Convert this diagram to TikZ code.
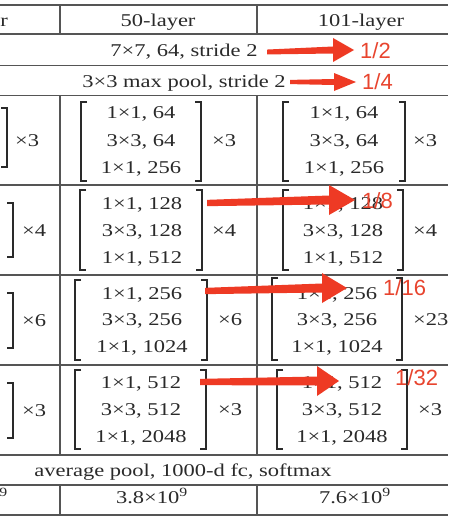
\documentclass[tikz,border=0pt]{standalone}
\usepackage{fontspec}
\setmainfont{Liberation Serif}
\newfontfamily\lblfont{Liberation Sans}
\definecolor{ink}{HTML}{2A2A2A}
\definecolor{rulegray}{HTML}{555555}
\definecolor{arrowred}{HTML}{EE3A24}
\definecolor{lblred}{HTML}{E8442E}
\newcommand\sx[1]{\scalebox{1.25}[1]{#1}}
\newcommand\mylb[3]{\draw[brk] (#1+6,#2) -- (#1,#2) -- (#1,#3) -- (#1+6,#3);}
\newcommand\myrb[3]{\draw[brk] (#1-6,#2) -- (#1,#2) -- (#1,#3) -- (#1-6,#3);}
% #1 x0, #2 y0, #3 x head base, #4 x tip, #5 y tip, #6 head half height, #7 shaft half width at base
\newcommand\myarrow[7]{\fill[arrowred] (#1,#2-0.7*#7) -- (#3,#5-#7) -- (#3,#5-#6) -- (#4,#5) -- (#3,#5+#6) -- (#3,#5+#7) -- (#1,#2+0.7*#7) -- cycle;}
\begin{document}
\begin{tikzpicture}[x=1pt,y=-1pt,
  cell/.style={font=\fontsize{18}{20}\selectfont, text=ink, inner sep=0pt, text height=12.2pt, text depth=0pt},
  rulel/.style={draw=rulegray, line width=1.5pt},
  brk/.style={draw=ink, line width=1.3pt},
  lbl/.style={font=\lblfont\fontsize{22}{24}\selectfont, text=lblred, inner sep=0pt, anchor=west, text height=15.7pt, text depth=0pt}]
\useasboundingbox (0,0) rectangle (448,519);
\fill[white] (0,0) rectangle (448,519);
% horizontal rules
\foreach \yy in {5,34,65.5,95.5,185,275,365,455,485,515}
  \draw[rulel] (0,\yy) -- (448,\yy);
% vertical rules
\foreach \xx in {60,257} {
  \draw[rulel] (\xx,5) -- (\xx,34);
  \draw[rulel] (\xx,95.5) -- (\xx,455);
  \draw[rulel] (\xx,485) -- (\xx,515);
}
% header
\node[cell, anchor=east] (h1) at (8,20) {\sx{r}};
\node[cell] (h2) at (158,20) {\sx{50-layer}};
\node[cell] (h3) at (361,20) {\sx{101-layer}};
\node[cell] (c1) at (184,50) {\sx{7×7, 64, stride 2}};
\node[cell] (p1) at (184,81) {\sx{3×3 max pool, stride 2}};
% conv2
\myrb{7}{108}{167}
\node[cell, anchor=west] (a2x) at (15,140) {\sx{×3}};
\mylb{81}{102}{181}\myrb{201}{102}{181}
\node[cell] (b2a) at (141,112) {\sx{1×1, 64}};
\node[cell] (b2b) at (141,140) {\sx{3×3, 64}};
\node[cell] (b2c) at (141,167) {\sx{1×1, 256}};
\node[cell, anchor=west] (b2x) at (212,140) {\sx{×3}};
\mylb{283}{102}{181}\myrb{405}{102}{181}
\node[cell] (c2a) at (344,112) {\sx{1×1, 64}};
\node[cell] (c2b) at (344,140) {\sx{3×3, 64}};
\node[cell] (c2c) at (344,167) {\sx{1×1, 256}};
\node[cell, anchor=west] (c2x) at (413,140) {\sx{×3}};
% conv3
\myrb{13}{203}{257}
\node[cell, anchor=west] (a3x) at (22,230) {\sx{×4}};
\mylb{80}{190}{270}\myrb{202}{190}{270}
\node[cell] (b3a) at (142,203) {\sx{1×1, 128}};
\node[cell] (b3b) at (142,230) {\sx{3×3, 128}};
\node[cell] (b3c) at (142,257) {\sx{1×1, 512}};
\node[cell, anchor=west] (b3x) at (212,230) {\sx{×4}};
\mylb{283}{190}{270}\myrb{403}{190}{270}
\node[cell] (c3a) at (343,203) {\sx{1×1, 128}};
\node[cell] (c3b) at (343,230) {\sx{3×3, 128}};
\node[cell] (c3c) at (343,257) {\sx{1×1, 512}};
\node[cell, anchor=west] (c3x) at (413,230) {\sx{×4}};
% conv4
\myrb{13}{293}{348}
\node[cell, anchor=west] (a4x) at (22,320) {\sx{×6}};
\mylb{75}{280}{360}\myrb{207}{280}{360}
\node[cell] (b4a) at (142,293) {\sx{1×1, 256}};
\node[cell] (b4b) at (142,319) {\sx{3×3, 256}};
\node[cell] (b4c) at (142,346) {\sx{1×1, 1024}};
\node[cell, anchor=west] (b4x) at (218,319) {\sx{×6}};
\mylb{272}{278}{360}\myrb{402}{278}{360}
\node[cell] (c4a) at (337,293) {\sx{1×1, 256}};
\node[cell] (c4b) at (337,319) {\sx{3×3, 256}};
\node[cell] (c4c) at (337,346) {\sx{1×1, 1024}};
\node[cell, anchor=west] (c4x) at (413,319) {\sx{×23}};
% conv5
\myrb{13}{383}{438}
\node[cell, anchor=west] (a5x) at (22,410) {\sx{×3}};
\mylb{75}{370}{449}\myrb{206}{370}{449}
\node[cell] (b5a) at (141,382) {\sx{1×1, 512}};
\node[cell] (b5b) at (141,409) {\sx{3×3, 512}};
\node[cell] (b5c) at (141,436) {\sx{1×1, 2048}};
\node[cell, anchor=west] (b5x) at (218,409) {\sx{×3}};
\mylb{277}{370}{449}\myrb{407}{370}{449}
\node[cell] (c5a) at (342,382) {\sx{1×1, 512}};
\node[cell] (c5b) at (342,409) {\sx{3×3, 512}};
\node[cell] (c5c) at (342,436) {\sx{1×1, 2048}};
\node[cell, anchor=west] (c5x) at (418,409) {\sx{×3}};
% bottom rows
\node[cell] (avg) at (183,470) {\sx{average pool, 1000-d fc, softmax}};
\node[cell, anchor=east] (f1) at (8,497) {\sx{\textsuperscript{9}}};
\node[cell] (f2) at (152,497) {\sx{3.8×10\textsuperscript{9}}};
\node[cell] (f3) at (355,497) {\sx{7.6×10\textsuperscript{9}}};
% red annotations
\myarrow{267}{52}{333}{354}{50}{12}{3.5}
\myarrow{290}{82}{334}{356}{82}{9}{3}
\myarrow{207}{203}{329}{355}{200}{15}{4.5}
\myarrow{205}{291}{322}{347}{288}{15}{4.5}
\myarrow{200}{382}{317}{339}{381}{15}{4.5}
\node[lbl] (l1) at (360,51) {1/2};
\node[lbl] (l2) at (362,82) {1/4};
\node[lbl] (l3) at (362,201) {1/8};
\node[lbl] (l4) at (383,288) {1/16};
\node[lbl] (l5) at (395,378) {1/32};
\end{tikzpicture}
\end{document}
